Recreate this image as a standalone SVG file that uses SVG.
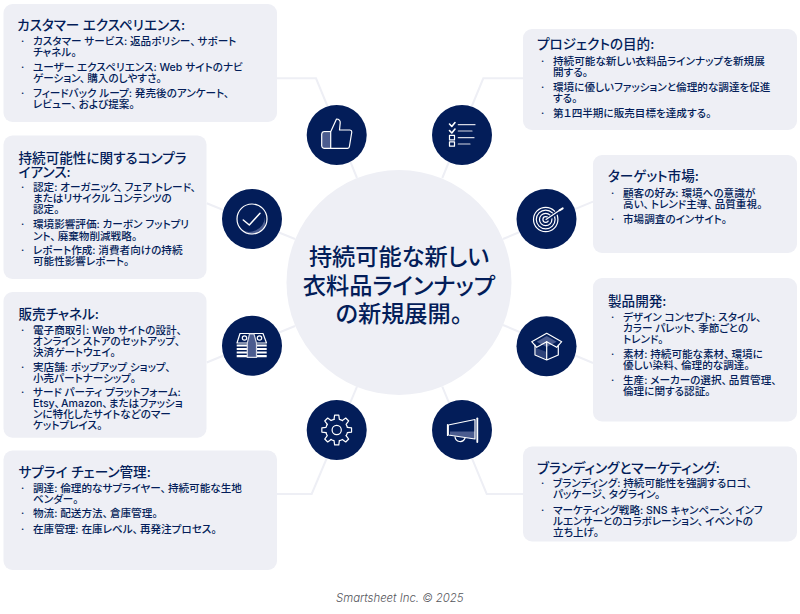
<svg xmlns="http://www.w3.org/2000/svg" xmlns:xlink="http://www.w3.org/1999/xlink" width="800" height="614" viewBox="0 0 800 614">
<style>
text{font-family:"Inter","Noto Sans CJK JP",sans-serif;fill:#031d59;font-feature-settings:"palt"}
.card{fill:#eeeff5}
.h{font-size:13.6px;font-weight:500}
.b{font-size:10.6px;font-weight:500}
.t{font-size:23.2px;text-anchor:middle;font-weight:500}
.f{font-size:11.4px;font-style:italic;fill:#55565c;font-weight:300;font-family:"Inter",sans-serif}
.c{fill:none;stroke:#eeeff5;stroke-width:2}
.d{fill:#031d59}
.i{fill:none;stroke:#fff;stroke-width:1.2;stroke-linejoin:round;stroke-linecap:round}
.s{fill:#4b5c8f;stroke:none}
</style>
<defs>
<path id="tooth" d="M-2.66-10.67L-2.09-14.85H2.09L2.66-10.67A11 11 0 0 1 5.67-9.43"/>
</defs>
<g id="connectors">
<path class="c" d="M277 78.3H316L357 178"/>
<path class="c" d="M206.7 203.3L295 239"/>
<path class="c" d="M206.7 362.5L295 326"/>
<path class="c" d="M357 386.7L311.7 494H277"/>
<path class="c" d="M523 78.3H483.3L442.3 178"/>
<path class="c" d="M593 201.7L503 239"/>
<path class="c" d="M503 325L593 363"/>
<path class="c" d="M442.3 386.7L486.7 494H523"/>
</g>
<g id="center">
<circle class="card" cx="399" cy="282.5" r="112.5"/>
<text class="t" x="399" y="265">持続可能な新しい</text>
<text class="t" x="399" y="293.5">衣料品ラインナップ</text>
<text class="t" x="399" y="322">の新規展開。</text>
</g>
<g id="customer-experience">
<rect class="card" x="3.5" y="4" width="273.5" height="118" rx="9"/>
<text class="h" x="17" y="29.5">カスタマー エクスペリエンス:</text>
<text class="b" x="21" y="45">·</text><text class="b" x="33" y="45">カスタマー サービス: 返品ポリシー、<tspan dx="2">サポート</tspan></text>
<text class="b" x="33" y="56">チャネル。</text>
<text class="b" x="21" y="71">·</text><text class="b" x="33" y="71">ユーザー エクスペリエンス: Web サイトのナビ</text>
<text class="b" x="33" y="82">ゲーション、<tspan dx="2">購入のしやすさ。</tspan></text>
<text class="b" x="21" y="97">·</text><text class="b" x="33" y="97">フィードバック ループ: 発売後のアンケート、</text>
<text class="b" x="33" y="108">レビュー、<tspan dx="2">および提案。</tspan></text>
</g>
<g id="compliance">
<rect class="card" x="3.5" y="135.5" width="203" height="143.5" rx="9"/>
<text class="h" x="18.5" y="163">持続可能性に関するコンプラ</text>
<text class="h" x="18.5" y="176.5">イアンス:</text>
<text class="b" x="21" y="191">·</text><text class="b" x="33" y="191">認定: オーガニック、<tspan dx="2">フェア トレード、</tspan></text>
<text class="b" x="33" y="202">またはリサイクル コンテンツの</text>
<text class="b" x="33" y="213">認定。</text>
<text class="b" x="21" y="228">·</text><text class="b" x="33" y="228">環境影響評価: カーボン フットプリ</text>
<text class="b" x="33" y="239.5">ント、<tspan dx="2">廃棄物削減戦略。</tspan></text>
<text class="b" x="21" y="254">·</text><text class="b" x="33" y="254">レポート作成: 消費者向けの持続</text>
<text class="b" x="33" y="265">可能性影響レポート。</text>
</g>
<g id="sales-channels">
<rect class="card" x="3.5" y="292" width="203" height="145.7" rx="9"/>
<text class="h" x="18.5" y="318.5">販売チャネル:</text>
<text class="b" x="21" y="333.5">·</text><text class="b" x="33" y="333.5">電子商取引: Web サイトの設計、</text>
<text class="b" x="33" y="344.5">オンライン ストアのセットアップ、</text>
<text class="b" x="33" y="355.5">決済ゲートウェイ。</text>
<text class="b" x="21" y="370.5">·</text><text class="b" x="33" y="370.5">実店舗: ポップアップ ショップ、</text>
<text class="b" x="33" y="381.5">小売パートナーシップ。</text>
<text class="b" x="21" y="396">·</text><text class="b" x="33" y="396">サード パーティ プラットフォーム:</text>
<text class="b" x="33" y="407">Etsy、<tspan dx="1">Amazon、</tspan><tspan dx="1">またはファッショ</tspan></text>
<text class="b" x="33" y="418">ンに特化したサイトなどのマー</text>
<text class="b" x="33" y="429">ケットプレイス。</text>
</g>
<g id="supply-chain">
<rect class="card" x="3.5" y="450.5" width="273.5" height="119.5" rx="9"/>
<text class="h" x="18.5" y="477">サプライ チェーン管理:</text>
<text class="b" x="21" y="491.5">·</text><text class="b" x="33" y="491.5">調達: 倫理的なサプライヤー、<tspan dx="2">持続可能な生地</tspan></text>
<text class="b" x="33" y="502.5">ベンダー。</text>
<text class="b" x="21" y="517">·</text><text class="b" x="33" y="517">物流: 配送方法、<tspan dx="2">倉庫管理。</tspan></text>
<text class="b" x="21" y="532.5">·</text><text class="b" x="33" y="532.5">在庫管理: 在庫レベル、<tspan dx="2">再発注プロセス。</tspan></text>
</g>
<g id="project-goals">
<rect class="card" x="523" y="29" width="274" height="101" rx="9"/>
<text class="h" x="537" y="49">プロジェクトの目的:</text>
<text class="b" x="541" y="64.5">·</text><text class="b" x="553" y="64.5">持続可能な新しい衣料品ラインナップを新規展</text>
<text class="b" x="553" y="75.5">開する。</text>
<text class="b" x="541" y="90.5">·</text><text class="b" x="553" y="90.5">環境に優しいファッションと倫理的な調達を促進</text>
<text class="b" x="553" y="101.5">する。</text>
<text class="b" x="541" y="116.5">·</text><text class="b" x="553" y="116.5">第１四半期に販売目標を達成する。</text>
</g>
<g id="target-market">
<rect class="card" x="593" y="155" width="204" height="98" rx="9"/>
<text class="h" x="608" y="181">ターゲット市場:</text>
<text class="b" x="611" y="196.5">·</text><text class="b" x="623" y="196.5">顧客の好み: 環境への意識が</text>
<text class="b" x="623" y="207.5">高い、<tspan dx="2">トレンド主導、</tspan><tspan dx="2">品質重視。</tspan></text>
<text class="b" x="611" y="223">·</text><text class="b" x="623" y="223">市場調査のインサイト。</text>
</g>
<g id="product-development">
<rect class="card" x="593" y="278" width="204" height="143.5" rx="9"/>
<text class="h" x="608" y="305.5">製品開発:</text>
<text class="b" x="611" y="320.5">·</text><text class="b" x="623" y="320.5">デザイン コンセプト: スタイル、</text>
<text class="b" x="623" y="331.5">カラー パレット、<tspan dx="2">季節ごとの</tspan></text>
<text class="b" x="623" y="342.5">トレンド。</text>
<text class="b" x="611" y="357.5">·</text><text class="b" x="623" y="357.5">素材: 持続可能な素材、<tspan dx="2">環境に</tspan></text>
<text class="b" x="623" y="368.5">優しい染料、<tspan dx="2">倫理的な調達。</tspan></text>
<text class="b" x="611" y="383.5">·</text><text class="b" x="623" y="383.5">生産: メーカーの選択、<tspan dx="2">品質管理、</tspan></text>
<text class="b" x="623" y="394.5">倫理に関する認証。</text>
</g>
<g id="branding-marketing">
<rect class="card" x="523" y="446.5" width="274" height="95" rx="9"/>
<text class="h" x="537" y="473">ブランディングとマーケティング:</text>
<text class="b" x="541" y="487">·</text><text class="b" x="553" y="487">ブランディング: 持続可能性を強調するロゴ、</text>
<text class="b" x="553" y="498">パッケージ、<tspan dx="2">タグライン。</tspan></text>
<text class="b" x="541" y="513.5">·</text><text class="b" x="553" y="513.5">マーケティング戦略: SNS キャンペーン、<tspan dx="2">インフ</tspan></text>
<text class="b" x="553" y="524.5">ルエンサーとのコラボレーション、<tspan dx="2">イベントの</tspan></text>
<text class="b" x="553" y="535.5">立ち上げ。</text>
</g>
<g id="icon-thumb">
<circle class="d" cx="336.7" cy="135" r="30"/>
<path class="s" d="M322 132.5H330.7V148H322Z"/>
<path class="i" d="M330.7 131.7H324A2.5 2.5 0 0 0 321.7 134V146A2.5 2.5 0 0 0 324 148.3H347.5A2 2 0 0 0 349.4 146.5L351.8 132A2 2 0 0 0 350 130H339.5L340.2 123A3.5 3.5 0 0 0 336.5 119L330.7 131.7V148.3"/>
</g>
<g id="icon-check">
<circle class="d" cx="252" cy="219" r="30"/>
<path class="s" d="M265 226.5A15 15 0 0 1 240 229A16 16 0 0 0 265 217Z"/>
<circle class="i" cx="252" cy="219" r="15"/>
<path class="i" style="stroke-width:1.5" d="M243.3 220L249.3 225L260 213.3"/>
</g>
<g id="icon-checklist">
<circle class="d" cx="462" cy="135" r="30"/>
<path class="i" style="stroke:#d5d8e3" d="M458.3 124.7H475M458.3 131H472M458.3 137.7H474M458.3 144H470"/>
<path class="i" style="stroke-width:1.6" d="M449.5 124L451.8 126.5L455 122.5M449.5 130.5L451.8 133L455 129"/>
<rect class="i" x="449.5" y="135.3" width="5" height="4.6"/>
<rect class="i" x="449.5" y="141.8" width="5" height="4.4"/>
</g>
<g id="icon-target">
<circle class="d" cx="546.5" cy="219" r="30"/>
<circle class="i" cx="545.7" cy="219.5" r="12.2"/>
<circle class="i" cx="545.7" cy="219.5" r="9.4"/>
<circle class="i" cx="545.7" cy="219.5" r="6.2"/>
<circle class="i" cx="545.7" cy="219.5" r="2.8"/>
<path class="d" d="M546 218.5L559 208.5L561 212L548 221Z"/>
<path class="i" d="M546 219.5L560 210"/>
<path class="i" style="stroke-width:2" d="M559.5 210.3L562.7 208.3"/>
</g>
<g id="icon-money">
<circle class="d" cx="252" cy="345.7" r="30"/>
<path class="i" d="M240 333.5H263L266.5 343H237Z"/>
<circle class="i" cx="244.5" cy="338" r="2.2"/>
<circle class="i" cx="259.5" cy="338" r="2.2"/>
<path fill="#fff" stroke="none" d="M236.7 344.5H266.7V346.5H236.7ZM236.7 348H266.7V350H236.7ZM236.7 351.6H266.7V353.4H236.7ZM236.7 355H266.7V357.3H236.7Z"/>
<path class="s" style="stroke:#d5d8e3;stroke-width:1.2" d="M247.3 357.3V343L249.5 334H254L256.5 343V357.3Z"/>
</g>
<g id="icon-gear">
<circle class="d" cx="336.7" cy="430" r="30"/>
<g class="i" transform="translate(336.7 430)">
<use href="#tooth"/><use href="#tooth" transform="rotate(45)"/><use href="#tooth" transform="rotate(90)"/><use href="#tooth" transform="rotate(135)"/><use href="#tooth" transform="rotate(180)"/><use href="#tooth" transform="rotate(225)"/><use href="#tooth" transform="rotate(270)"/><use href="#tooth" transform="rotate(315)"/>
<circle r="4.6"/>
</g>
</g>
<g id="icon-box">
<circle class="d" cx="546.5" cy="346.3" r="30"/>
<path class="s" d="M536.7 341.7L546.7 336L556.7 341.7L546.7 347Z"/>
<path class="s" style="opacity:.6" d="M536 348L546.7 352V359L536 355Z"/>
<path class="i" d="M535 345V355L546.7 360L558.3 355V345M546.7 341.7V360"/>
<path class="i" d="M546.7 333.3L561.7 341.7L556.7 347.3L546.7 341.7L536.7 347.3L531.7 341.7Z"/>
</g>
<g id="icon-megaphone">
<circle class="d" cx="462" cy="430" r="30"/>
<path class="s" d="M450 431.5H475V439L450 435Z"/>
<path class="i" d="M448.3 425L475 419.5V439L448.3 435ZM447.5 424.5V435.5"/>
<path class="i" style="stroke-width:1.8" d="M477.3 418.3V442"/>
<path class="i" d="M455 436.8A5.2 5.2 0 0 0 465 438.3"/>
</g>
<text class="f" x="336" y="602">Smartsheet Inc. © 2025</text>
</svg>
